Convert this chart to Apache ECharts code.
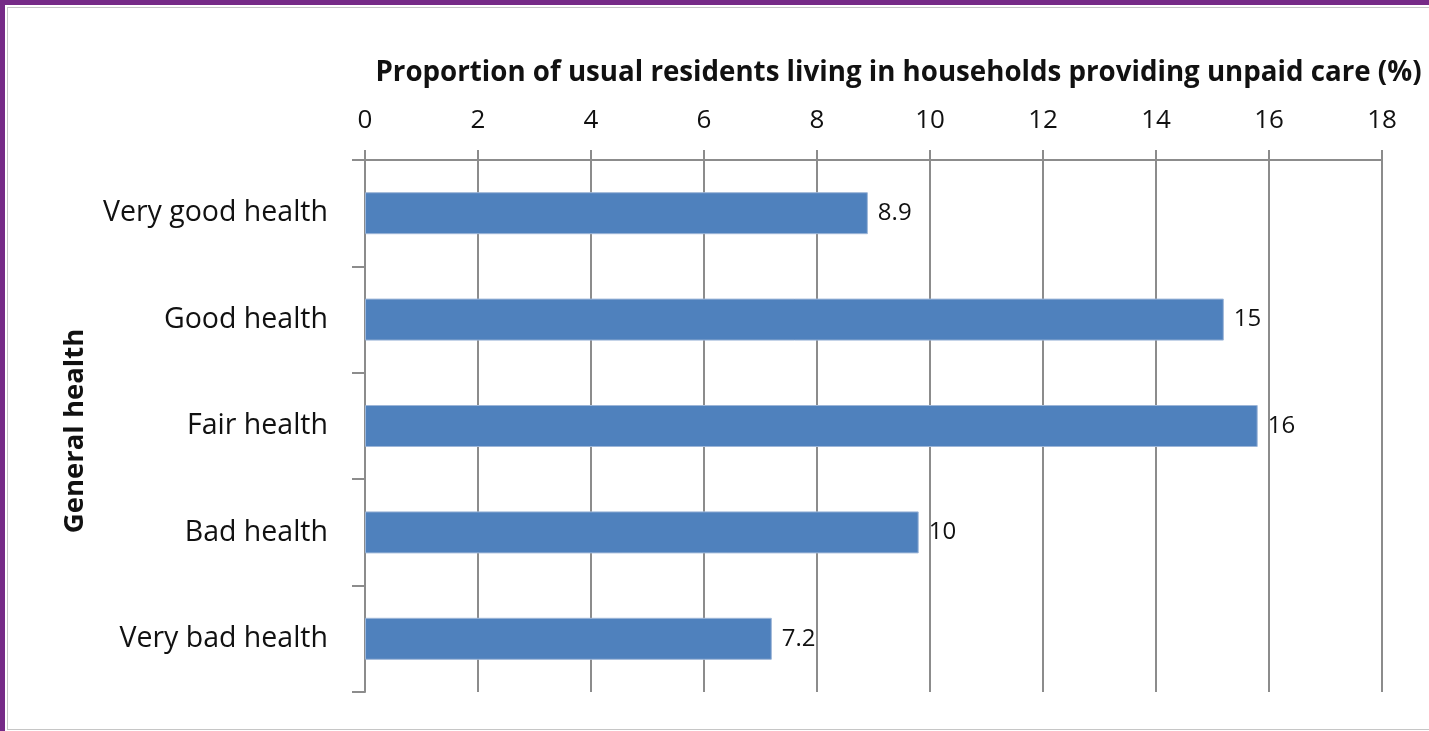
<!DOCTYPE html>
<html>
<head>
<meta charset="utf-8">
<script src="https://cdn.jsdelivr.net/npm/echarts@6/dist/echarts.min.js"></script>
<style>
  html, body { margin: 0; padding: 0; background: #fff; }
  #frame { position: absolute; left: 0; top: 0; width: 1429px; height: 731px; overflow: hidden; background: #fff; }
  #purpleTop { position: absolute; left: 0; top: 0; width: 1429px; height: 5px; background: #762A87; }
  #purpleLeft { position: absolute; left: 0; top: 0; width: 5px; height: 731px; background: #762A87; }
  #inner { position: absolute; left: 7px; top: 7px; width: 1440px; height: 723px; border: 1px solid #C6C6C6; box-sizing: border-box; }
  #chart { position: absolute; left: 0; top: 0; width: 1429px; height: 731px; }
</style>
</head>
<body>
<div id="frame">
  <div id="purpleTop"></div>
  <div id="purpleLeft"></div>
  <div id="inner"></div>
  <div id="chart"></div>
</div>
<script>
const categories = ["Very good health", "Good health", "Fair health", "Bad health", "Very bad health"];
const values = [8.9, 15.2, 15.8, 9.8, 7.2];
const valueLabels = ["8.9", "15", "16", "10", "7.2"];
const xTicks = { min: 0, max: 18, interval: 2 };
const xTitle = "Proportion of usual residents living in households providing unpaid care (%)";
const yTitle = "General health";

const gray = '#8C8C8C';
const font = '"Open Sans", "Noto Sans", sans-serif';

const chart = echarts.init(document.getElementById('chart'), null, { renderer: 'canvas' });
chart.setOption({
  backgroundColor: 'transparent',
  animation: false,
  grid: { left: 365, top: 160, width: 1017, height: 532, containLabel: false },
  xAxis: {
    type: 'value',
    position: 'top',
    min: xTicks.min, max: xTicks.max, interval: xTicks.interval,
    name: xTitle,
    nameLocation: 'middle',
    nameGap: 73,
    nameTextStyle: { fontFamily: font, fontWeight: 'bold', fontSize: 27.7, color: '#111', padding: [0, 0, 0, 50] },
    axisLine: { show: true, lineStyle: { color: gray, width: 2 } },
    axisTick: { show: true, inside: false, length: 10, lineStyle: { color: gray, width: 2 } },
    axisLabel: { margin: 26, fontFamily: font, fontSize: 26, color: '#111' },
    splitLine: { show: true, lineStyle: { color: gray, width: 2 } }
  },
  yAxis: {
    type: 'category',
    inverse: true,
    data: categories,
    name: yTitle,
    nameLocation: 'middle',
    nameGap: 276,
    nameRotate: 90,
    nameTextStyle: { fontFamily: font, fontWeight: 'bold', fontSize: 27.5, color: '#111', padding: [0, 10, 0, 0] },
    axisLine: { show: true, lineStyle: { color: gray, width: 2 } },
    axisTick: { show: true, inside: false, length: 13, alignWithLabel: false, lineStyle: { color: gray, width: 2 } },
    axisLabel: { margin: 37, fontFamily: font, fontSize: 28.5, color: '#111' },
    splitLine: { show: false }
  },
  series: [{
    type: 'bar',
    data: values,
    barWidth: 42,
    itemStyle: { color: '#4F81BD', borderColor: '#9DB6D8', borderWidth: 1 },
    label: {
      show: true,
      position: 'right',
      distance: 10,
      fontFamily: font,
      fontSize: 24,
      color: '#111',
      formatter: (p) => valueLabels[p.dataIndex]
    }
  }]
});
</script>
</body>
</html>
